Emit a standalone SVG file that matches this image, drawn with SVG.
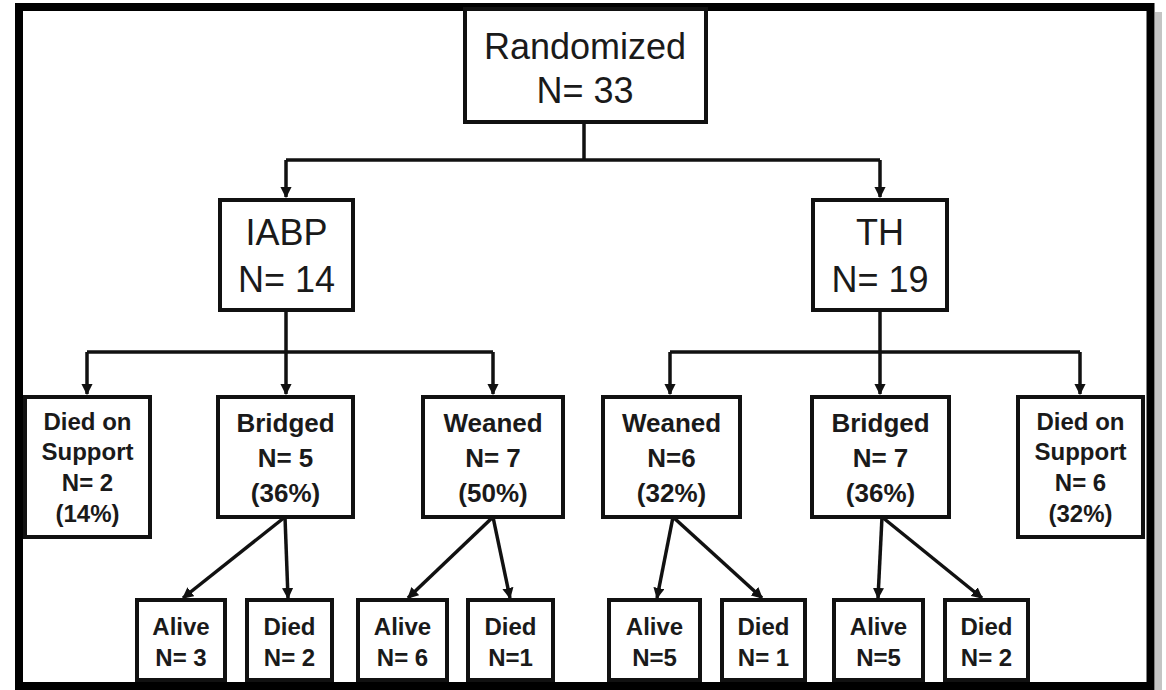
<svg xmlns="http://www.w3.org/2000/svg" width="1166" height="690" viewBox="0 0 1166 690">
  <style>
    .box { fill: #ffffff; stroke: #111111; stroke-width: 4; }
    .link { fill: none; stroke: #111111; stroke-width: 3.5; }
    .big { font-family: "Liberation Sans", Arial, sans-serif; font-size: 36px; fill: #1a1a1a; text-anchor: middle; }
    .mid { font-family: "Liberation Sans", Arial, sans-serif; font-size: 26px; font-weight: bold; fill: #1a1a1a; text-anchor: middle; }
    .small { font-family: "Liberation Sans", Arial, sans-serif; font-size: 24px; font-weight: bold; fill: #1a1a1a; text-anchor: middle; }
  </style>
  <defs>
    <marker id="arrow" viewBox="0 0 10 10" refX="9" refY="5" markerWidth="3.2" markerHeight="3.2" orient="auto" markerUnits="strokeWidth">
      <path d="M0,0 L10,5 L0,10 Z" fill="#111111"/>
    </marker>
  </defs>

  <rect x="0" y="0" width="1166" height="690" fill="#ffffff"/>
  <!-- drop shadow on the right of the frame -->
  <rect x="1155" y="12" width="7" height="678" fill="#c4c4c4"/>
  <!-- outer frame -->
  <rect x="19" y="7" width="1131.5" height="679" fill="#ffffff" stroke="#000000" stroke-width="8"/>

  <g id="connectors">
    <!-- Randomized to arms -->
    <path class="link" d="M584,122 V160"/>
    <path class="link" d="M286,160 H880"/>
    <path class="link" d="M286,160 V197" marker-end="url(#arrow)"/>
    <path class="link" d="M880,160 V197" marker-end="url(#arrow)"/>
    <!-- IABP outcomes -->
    <path class="link" d="M286,310 V352"/>
    <path class="link" d="M87,352 H493"/>
    <path class="link" d="M87,352 V394" marker-end="url(#arrow)"/>
    <path class="link" d="M286,352 V394" marker-end="url(#arrow)"/>
    <path class="link" d="M493,352 V394" marker-end="url(#arrow)"/>
    <!-- TH outcomes -->
    <path class="link" d="M880,310 V352"/>
    <path class="link" d="M670,352 H1080"/>
    <path class="link" d="M670,352 V394" marker-end="url(#arrow)"/>
    <path class="link" d="M880,352 V394" marker-end="url(#arrow)"/>
    <path class="link" d="M1080,352 V394" marker-end="url(#arrow)"/>
    <!-- follow-up -->
    <path class="link" d="M285,517 L183,598" marker-end="url(#arrow)"/>
    <path class="link" d="M285,517 L288,598" marker-end="url(#arrow)"/>
    <path class="link" d="M493,517 L408,598" marker-end="url(#arrow)"/>
    <path class="link" d="M493,517 L510,598" marker-end="url(#arrow)"/>
    <path class="link" d="M673,517 L657,598" marker-end="url(#arrow)"/>
    <path class="link" d="M673,517 L762,598" marker-end="url(#arrow)"/>
    <path class="link" d="M882,517 L878,598" marker-end="url(#arrow)"/>
    <path class="link" d="M882,517 L982,598" marker-end="url(#arrow)"/>
  </g>

  <g id="randomized">
    <rect class="box" x="465" y="9" width="241" height="113"/>
    <text class="big" x="585" y="59" font-size="37">Randomized</text>
    <text class="big" x="585" y="103" font-size="37">N= 33</text>
  </g>

  <g id="iabp">
    <rect class="box" x="220" y="200" width="133" height="110"/>
    <text class="big" x="286.5" y="245">IABP</text>
    <text class="big" x="286.5" y="292">N= 14</text>
  </g>

  <g id="th">
    <rect class="box" x="813" y="200" width="134" height="110"/>
    <text class="big" x="880" y="245">TH</text>
    <text class="big" x="880" y="292">N= 19</text>
  </g>

  <g id="iabp-died">
    <rect class="box" x="25" y="397" width="125" height="140"/>
    <text class="small" x="87.5" y="430">Died on</text>
    <text class="small" x="87.5" y="460">Support</text>
    <text class="small" x="87.5" y="491">N= 2</text>
    <text class="small" x="87.5" y="522">(14%)</text>
  </g>

  <g id="iabp-bridged">
    <rect class="box" x="218" y="397" width="135" height="120"/>
    <text class="mid" x="285.5" y="432">Bridged</text>
    <text class="mid" x="285.5" y="467">N= 5</text>
    <text class="mid" x="285.5" y="502">(36%)</text>
  </g>

  <g id="iabp-weaned">
    <rect class="box" x="423" y="397" width="140" height="120"/>
    <text class="mid" x="493" y="432">Weaned</text>
    <text class="mid" x="493" y="467">N= 7</text>
    <text class="mid" x="493" y="502">(50%)</text>
  </g>

  <g id="th-weaned">
    <rect class="box" x="603" y="397" width="137" height="120"/>
    <text class="mid" x="671.5" y="432">Weaned</text>
    <text class="mid" x="671.5" y="467">N=6</text>
    <text class="mid" x="671.5" y="502">(32%)</text>
  </g>

  <g id="th-bridged">
    <rect class="box" x="812" y="397" width="137" height="120"/>
    <text class="mid" x="880.5" y="432">Bridged</text>
    <text class="mid" x="880.5" y="467">N= 7</text>
    <text class="mid" x="880.5" y="502">(36%)</text>
  </g>

  <g id="th-died">
    <rect class="box" x="1018" y="397" width="125" height="140"/>
    <text class="small" x="1080.5" y="430">Died on</text>
    <text class="small" x="1080.5" y="460">Support</text>
    <text class="small" x="1080.5" y="491">N= 6</text>
    <text class="small" x="1080.5" y="522">(32%)</text>
  </g>

  <g id="iabp-bridged-alive">
    <rect class="box" x="137" y="600" width="88" height="80"/>
    <text class="small" x="181" y="635">Alive</text>
    <text class="small" x="181" y="666">N= 3</text>
  </g>
  <g id="iabp-bridged-died">
    <rect class="box" x="247" y="600" width="85" height="80"/>
    <text class="small" x="289.5" y="635">Died</text>
    <text class="small" x="289.5" y="666">N= 2</text>
  </g>
  <g id="iabp-weaned-alive">
    <rect class="box" x="358" y="600" width="89" height="80"/>
    <text class="small" x="402.5" y="635">Alive</text>
    <text class="small" x="402.5" y="666">N= 6</text>
  </g>
  <g id="iabp-weaned-died">
    <rect class="box" x="468" y="600" width="85" height="80"/>
    <text class="small" x="510.5" y="635">Died</text>
    <text class="small" x="510.5" y="666">N=1</text>
  </g>
  <g id="th-weaned-alive">
    <rect class="box" x="609" y="600" width="91" height="80"/>
    <text class="small" x="654.5" y="635">Alive</text>
    <text class="small" x="654.5" y="666">N=5</text>
  </g>
  <g id="th-weaned-died">
    <rect class="box" x="722" y="600" width="83" height="80"/>
    <text class="small" x="763.5" y="635">Died</text>
    <text class="small" x="763.5" y="666">N= 1</text>
  </g>
  <g id="th-bridged-alive">
    <rect class="box" x="834" y="600" width="89" height="80"/>
    <text class="small" x="878.5" y="635">Alive</text>
    <text class="small" x="878.5" y="666">N=5</text>
  </g>
  <g id="th-bridged-died">
    <rect class="box" x="945" y="600" width="83" height="80"/>
    <text class="small" x="986.5" y="635">Died</text>
    <text class="small" x="986.5" y="666">N= 2</text>
  </g>
</svg>
